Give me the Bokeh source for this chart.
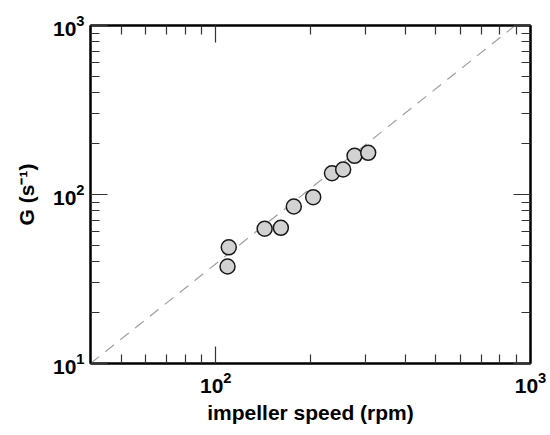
from bokeh.plotting import figure
from bokeh.models import LogAxis, FixedTicker, LogTickFormatter, ColumnDataSource
from bokeh.embed import file_html
from bokeh.resources import INLINE

# data
speed_rpm = [110, 109, 143, 161, 177, 204, 234, 254, 276, 305]
G_values = [48.7, 37.5, 62.7, 63.5, 84.9, 96.4, 133.6, 140.6, 169.4, 176.5]
fit_x = [40, 1000]
fit_y = [10, 1180]

# tick positions
major_ticks = [10, 100, 1000]
minor_ticks = [20, 30, 40, 50, 60, 70, 80, 90, 200, 300, 400, 500, 600, 700, 800, 900]

FONT = "Liberation Sans"

p = figure(x_axis_type="log", y_axis_type="log",
           x_range=(40, 1000), y_range=(10, 1000),
           frame_width=440, frame_height=338,
           min_border_left=90, min_border_top=25, min_border_right=20, min_border_bottom=72,
           output_backend="svg", toolbar_location=None,
           background_fill_color="white", border_fill_color="white")
p.xgrid.visible = False
p.ygrid.visible = False
p.outline_line_color = "black"
p.outline_line_width = 2

p.line(fit_x, fit_y, line_color="#a0a0a0", line_width=1.2, line_dash="11 8")

src = ColumnDataSource(dict(x=speed_rpm, y=G_values))
p.scatter("x", "y", source=src, size=15, fill_color="#d2d2d2",
          line_color="#1a1a1a", line_width=1.5)

def make_ticker():
    return FixedTicker(ticks=major_ticks, minor_ticks=minor_ticks)

def style(ax, labels=True):
    ax.ticker = make_ticker()
    ax.formatter = LogTickFormatter()
    ax.axis_line_color = "black"
    ax.axis_line_width = 2
    ax.major_tick_in = 17
    ax.major_tick_out = 0
    ax.minor_tick_in = 9
    ax.minor_tick_out = 0
    ax.major_tick_line_color = "#333333"
    ax.minor_tick_line_color = "#333333"
    ax.major_tick_line_width = 1.2
    ax.minor_tick_line_width = 1.2
    if labels:
        ax.major_label_text_font = FONT
        ax.major_label_text_font_style = "bold"
        ax.major_label_text_font_size = "21px"
        ax.major_label_text_color = "black"
        ax.axis_label_text_font = FONT
        ax.axis_label_text_font_style = "bold"
        ax.axis_label_text_font_size = "21px"
        ax.axis_label_text_color = "black"
    else:
        ax.major_label_text_color = None
        ax.major_label_text_font_size = "1px"
        ax.major_label_standoff = 0

xa = p.xaxis[0]
ya = p.yaxis[0]
style(xa)
style(ya)
xa.axis_label = "impeller speed (rpm)"
ya.axis_label = "G (s\u207b\u00b9)"
xa.major_label_standoff = 8
xa.axis_label_standoff = 5
ya.major_label_standoff = 6
ya.axis_label_standoff = 12

top = LogAxis()
right = LogAxis()
style(top, labels=False)
style(right, labels=False)
p.add_layout(top, "above")
p.add_layout(right, "right")

open("out.html", "w").write(file_html(p, INLINE))
